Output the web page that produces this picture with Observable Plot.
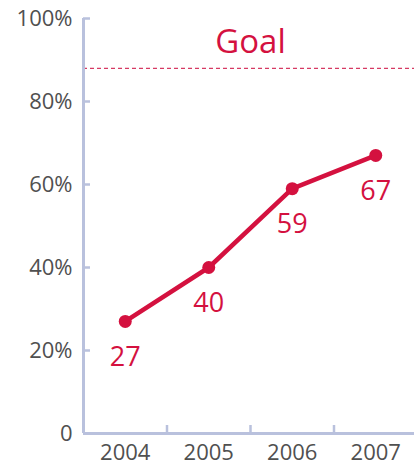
<!DOCTYPE html>
<html><head><meta charset="utf-8">
<script src="https://cdn.jsdelivr.net/npm/d3@7"></script>
<script src="https://cdn.jsdelivr.net/npm/@observablehq/plot@0.6"></script>
<style>body{margin:0;background:#fff}</style>
</head><body><div id="chart"></div>
<script>
const years = [2004, 2005, 2006, 2007];
const values = [27, 40, 59, 67];
const goal = 88;
const goalLabel = "Goal";
const yTicks = [0, 20, 40, 60, 80, 100];
const xBoundaries = [2004.5, 2005.5, 2006.5];

const data = years.map((y, i) => ({year: y, value: values[i]}));
const red = "#d4113f";
const axisColor = "#b9c1dd";
const font = "'Open Sans', sans-serif";

const chart = Plot.plot({
  width: 414, height: 466,
  marginLeft: 83, marginRight: 0, marginTop: 18, marginBottom: 33,
  style: {fontFamily: font, background: "#fff"},
  x: {type: "linear", domain: [2003.5, 2007.5], range: [83, 417], label: null},
  y: {domain: [0, 100], label: null},
  marks: [
    Plot.ruleY([goal], {stroke: "#d63a63", strokeWidth: 1.2, strokeDasharray: "4,3"}),
    Plot.text([goal], {x: 2005.5, y: d => d, text: () => goalLabel, dy: -26, fill: red, fontSize: 33, lineAnchor: "middle"}),
    Plot.axisY({ticks: yTicks, tickSize: -7, text: null, label: null, stroke: axisColor, strokeWidth: 2.5}),
    Plot.axisY({ticks: yTicks, tickSize: 0, tickPadding: 11, label: null, tickFormat: d => d === 0 ? "0" : d + "%", fontSize: 22, fill: "#505050"}),
    Plot.axisX({ticks: xBoundaries, tickSize: -8, text: null, label: null, stroke: axisColor, strokeWidth: 2.5}),
    Plot.axisX({ticks: years, tickSize: 0, tickPadding: 11, label: null, tickFormat: d => String(d), fontSize: 22, fill: "#505050"}),
    Plot.ruleX([2003.5], {stroke: axisColor, strokeWidth: 3}),
    Plot.ruleY([0], {stroke: axisColor, strokeWidth: 3}),
    Plot.line(data, {x: "year", y: "value", stroke: red, strokeWidth: 4.5}),
    Plot.dot(data, {x: "year", y: "value", r: 6.5, fill: red}),
    Plot.text(data, {x: "year", y: "value", text: d => String(d.value), dy: 36, fill: red, fontSize: 27, lineAnchor: "middle"})
  ]
});
document.getElementById("chart").appendChild(chart);
</script>
</body></html>
